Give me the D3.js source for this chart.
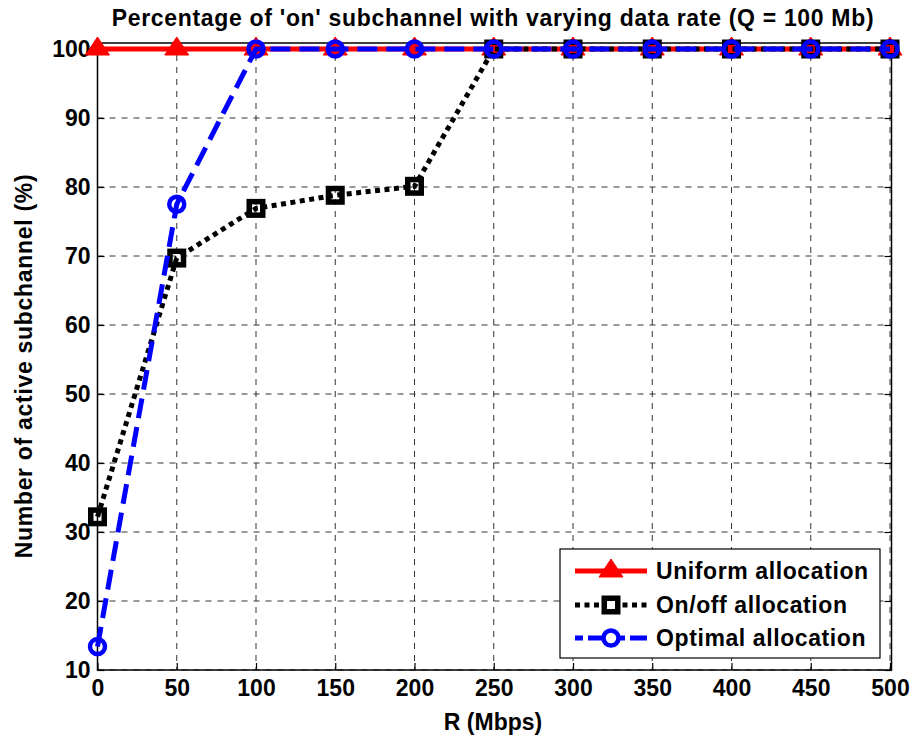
<!DOCTYPE html>
<html>
<head>
<meta charset="utf-8">
<script src="https://cdn.jsdelivr.net/npm/d3@7"></script>
<style>
  body { margin: 0; background: #fff; }
  svg { display: block; }
  text { font-family: "Liberation Sans", Arial, sans-serif; font-weight: bold; }
</style>
</head>
<body>
<svg id="chart" width="915" height="737"></svg>
<script>
// Data rate R (Mbps)
const rates = [0, 50, 100, 150, 200, 250, 300, 350, 400, 450, 500];
// Percentage of active subchannels for each scheme
const uniform = [100, 100, 100, 100, 100, 100, 100, 100, 100, 100, 100];
const onOff   = [32.2, 69.7, 76.9, 78.8, 80.1, 100, 100, 100, 100, 100, 100];
const optimal = [13.4, 77.5, 100, 100, 100, 100, 100, 100, 100, 100, 100];

const xTicks = [0, 50, 100, 150, 200, 250, 300, 350, 400, 450, 500];
const yTicks = [10, 20, 30, 40, 50, 60, 70, 80, 90, 100];

const titleText = "Percentage of 'on' subchannel with varying data rate (Q = 100 Mb)";
const xLabel = "R (Mbps)";
const yLabel = "Number of active subchannel (%)";
const legendNames = ["Uniform allocation", "On/off allocation", "Optimal allocation"];

const svg = d3.select("#chart");
const L = 97.5, R = 891.5, T = 43, B = 670;
const FS = 23;

const x = d3.scaleLinear().domain([0, 500]).range([L, R - 1.5]);
const y = d3.scaleLinear().domain([10, 100]).range([B, B - 9 * 69]);

svg.append("rect").attr("x", 0).attr("y", 0).attr("width", 915).attr("height", 737).attr("fill", "#fff");

// grid
const grid = svg.append("g");
xTicks.forEach(t => {
  grid.append("line").attr("x1", x(t)).attr("x2", x(t)).attr("y1", T).attr("y2", B)
    .attr("stroke", "#333").attr("stroke-width", 1).attr("stroke-dasharray", "6,6");
});
yTicks.forEach(t => {
  grid.append("line").attr("x1", L).attr("x2", R).attr("y1", y(t)).attr("y2", y(t))
    .attr("stroke", "#333").attr("stroke-width", 1).attr("stroke-dasharray", "6,6");
});

// axes (ticks inside, mirrored on top/right)
const axB = d3.axisBottom(x).tickValues(xTicks).tickSize(-7).tickPadding(10).tickFormat(d3.format("d"));
const axT = d3.axisTop(x).tickValues(xTicks).tickSize(-7).tickFormat("");
const axL = d3.axisLeft(y).tickValues(yTicks).tickSize(-7).tickPadding(7).tickFormat(d3.format("d"));
const axR = d3.axisRight(y).tickValues(yTicks).tickSize(-7).tickFormat("");

function styleAxis(g) {
  g.attr("font-size", FS).attr("font-family", "'Liberation Sans', Arial, sans-serif");
  g.select(".domain").remove();
  g.selectAll(".tick line").attr("stroke", "#000").attr("stroke-width", 1.2);
  g.selectAll("text").attr("fill", "#000").style("font-weight", "bold");
}
svg.append("g").attr("transform", `translate(0,${B})`).call(axB).call(styleAxis);
svg.append("g").attr("transform", `translate(0,${T})`).call(axT).call(styleAxis);
svg.append("g").attr("transform", `translate(${L},0)`).call(axL).call(styleAxis);
svg.append("g").attr("transform", `translate(${R},0)`).call(axR).call(styleAxis);

// plot box
svg.append("rect").attr("x", L).attr("y", T).attr("width", R - L).attr("height", B - T)
  .attr("fill", "none").attr("stroke", "#000").attr("stroke-width", 1.5);

const line = d3.line().x(d => x(d[0])).y(d => y(d[1]));
const zip = vals => rates.map((r, i) => [r, vals[i]]);

// marker shapes
const triPath = "M0,-12L12,6L-12,6Z";
const LW = 5;
const dotted = "5,4.5";
const dashed = "20,9";
const SQ = 13.5, SQW = 5.5;
const CR = 7.5, CW = 4.5;

// Uniform allocation
const g1 = svg.append("g");
g1.append("path").datum(zip(uniform)).attr("d", line)
  .attr("fill", "none").attr("stroke", "#ff0000").attr("stroke-width", LW);
g1.selectAll("path.m").data(zip(uniform)).join("path").attr("class", "m")
  .attr("d", triPath).attr("transform", d => `translate(${x(d[0])},${y(d[1])})`)
  .attr("fill", "#ff0000").attr("stroke", "#ff0000").attr("stroke-width", 1);

// On/off allocation
const g2 = svg.append("g");
g2.append("path").datum(zip(onOff)).attr("d", line)
  .attr("fill", "none").attr("stroke", "#000").attr("stroke-width", LW)
  .attr("stroke-dasharray", dotted);
g2.selectAll("rect.m").data(zip(onOff)).join("rect").attr("class", "m")
  .attr("x", d => x(d[0]) - SQ / 2).attr("y", d => y(d[1]) - SQ / 2).attr("width", SQ).attr("height", SQ)
  .attr("fill", "none").attr("stroke", "#000").attr("stroke-width", SQW);

// Optimal allocation
const g3 = svg.append("g");
g3.append("path").datum(zip(optimal)).attr("d", line)
  .attr("fill", "none").attr("stroke", "#0000ff").attr("stroke-width", LW)
  .attr("stroke-dasharray", dashed);
g3.selectAll("circle.m").data(zip(optimal)).join("circle").attr("class", "m")
  .attr("cx", d => x(d[0])).attr("cy", d => y(d[1])).attr("r", CR)
  .attr("fill", "none").attr("stroke", "#0000ff").attr("stroke-width", CW);

// title and axis labels
svg.append("text").attr("x", 493).attr("y", 26).attr("text-anchor", "middle")
  .attr("font-size", FS).attr("letter-spacing", 0.68).text(titleText);
svg.append("text").attr("x", 493).attr("y", 730).attr("text-anchor", "middle")
  .attr("font-size", FS).text(xLabel);
svg.append("text").attr("transform", `translate(32,366) rotate(-90)`)
  .attr("text-anchor", "middle").attr("font-size", FS).attr("letter-spacing", 0.7).text(yLabel);

// legend
const lg = svg.append("g");
lg.append("rect").attr("x", 560).attr("y", 549).attr("width", 320).attr("height", 109)
  .attr("fill", "#fff").attr("stroke", "#000").attr("stroke-width", 1.2);
const rowY = [571, 605, 638];
const lx0 = 575, lx1 = 647, lmid = 611;
lg.append("line").attr("x1", lx0).attr("x2", lx1).attr("y1", rowY[0]).attr("y2", rowY[0])
  .attr("stroke", "#ff0000").attr("stroke-width", LW);
lg.append("path").attr("d", triPath).attr("transform", `translate(${lmid},${rowY[0]})`)
  .attr("fill", "#ff0000").attr("stroke", "#ff0000");
lg.append("line").attr("x1", lx0).attr("x2", lx1).attr("y1", rowY[1]).attr("y2", rowY[1])
  .attr("stroke", "#000").attr("stroke-width", LW).attr("stroke-dasharray", dotted);
lg.append("rect").attr("x", lmid - SQ / 2).attr("y", rowY[1] - SQ / 2).attr("width", SQ).attr("height", SQ)
  .attr("fill", "#fff").attr("stroke", "#000").attr("stroke-width", SQW);
lg.append("line").attr("x1", lx0).attr("x2", lx1).attr("y1", rowY[2]).attr("y2", rowY[2])
  .attr("stroke", "#0000ff").attr("stroke-width", LW).attr("stroke-dasharray", "8,5,20,9");
lg.append("circle").attr("cx", lmid).attr("cy", rowY[2]).attr("r", CR)
  .attr("fill", "#fff").attr("stroke", "#0000ff").attr("stroke-width", CW);
legendNames.forEach((n, i) => {
  lg.append("text").attr("x", 656).attr("y", rowY[i] + 8).attr("font-size", FS)
    .attr("letter-spacing", 0.6).text(n);
});
</script>
</body>
</html>
